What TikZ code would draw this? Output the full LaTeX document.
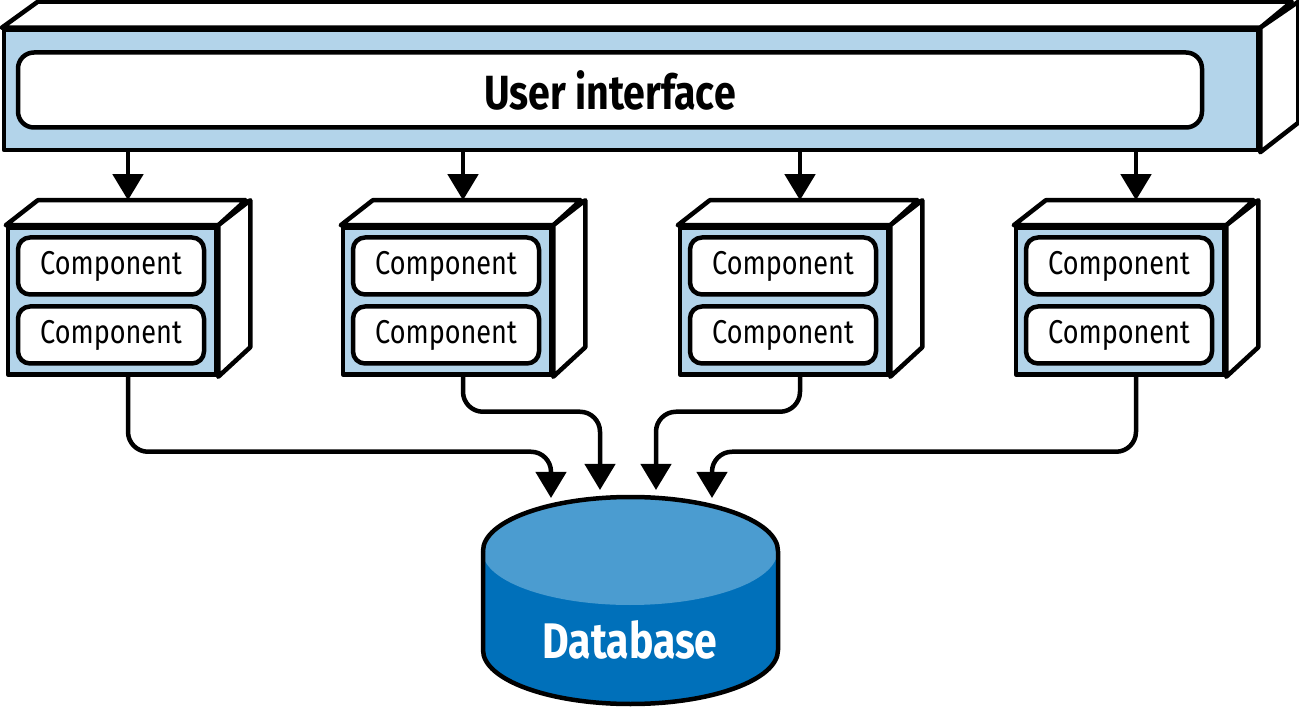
\documentclass[tikz,border=0pt]{standalone}
\usepackage{fontspec}
\setmainfont{Fira Sans}[FakeStretch=0.82]
\usetikzlibrary{positioning, arrows.meta}
\definecolor{boxblue}{HTML}{B3D4EA}
\definecolor{dblight}{HTML}{4B9CD0}
\definecolor{dbdark}{HTML}{0070BA}
\begin{document}
\begin{tikzpicture}[x=1pt, y=-1pt, line width=4.5pt, line join=round,
        front/.style = {rectangle, draw, fill=boxblue, inner sep=0pt,
                       minimum width=208pt, minimum height=147pt},
         comp/.style = {rectangle, rounded corners=12pt, draw, fill=white,
                       minimum width=186pt, minimum height=57pt, inner sep=0pt,
                       font=\fontsize{33}{35}\selectfont},
          arr/.style = {-{Triangle[width=30pt,length=26pt]}, line width=4.5pt},
         link/.style = {arr, rounded corners=20pt}
                        ]
\useasboundingbox (0,0) rectangle (1299,708);
% user interface bar
\node (uibar) [rectangle, draw, fill=boxblue, inner sep=0pt,
      minimum width=1254pt, minimum height=120pt] at (631,90) {};
\draw[fill=white] (uibar.north west) -- ++(36,-26) -- ++(1254,0)
      -- (uibar.north east) -- cycle;
\draw[fill=white] (uibar.north east) -- ++(38,-26) -- ++(0,121)
      -- (uibar.south east) -- cycle;
\node (ui) [comp, minimum width=1184pt, minimum height=75pt, rounded corners=16pt,
      font=\fontsize{48}{50}\selectfont\bfseries] at (610,90) {User interface};
% components
\foreach \i/\x in {1/112, 2/447, 3/784, 4/1120} {
  \node (box\i) [front] at (\x,301) {};
  \draw[fill=white] (box\i.north west) -- ++(32,-25) -- ++(208,0)
        -- (box\i.north east) -- cycle;
  \draw[fill=white] (box\i.north east) -- ++(32,-25) -- ++(0,147)
        -- (box\i.south east) -- cycle;
  \node (ca\i) [comp] at (\x-1,266) {Component};
  \node (cb\i) [comp] at (\x-1,335) {Component};
  \coordinate (top\i) at ([xshift=16pt]box\i.north);
  \draw[arr] (top\i |- uibar.south) -- ([yshift=25pt]top\i);
}
% database
\fill[dbdark] (483,551) -- (483,650) arc[start angle=180, end angle=0,
      x radius=147.5, y radius=54] -- (778,551) -- cycle;
\fill[dblight] (630,551) ellipse[x radius=147.5, y radius=54];
\draw (483,551) arc[start angle=180, end angle=360, x radius=147.5, y radius=54];
\draw (483,551) -- (483,650) arc[start angle=180, end angle=0,
      x radius=147.5, y radius=54] -- (778,551);
\node (db) [text=white, font=\fontsize{50}{52}\selectfont\bfseries] at (630,640) {Database};
\coordinate (in1) at (551,498);
\coordinate (in2) at (600,490);
\coordinate (in3) at (656,490);
\coordinate (in4) at (712,498);
% links to the database
\draw[link] (top1 |- box1.south) -- ++(0,75) -| (in1);
\draw[link] (top2 |- box2.south) -- ++(0,35) -| (in2);
\draw[link] (top3 |- box3.south) -- ++(0,35) -| (in3);
\draw[link] (top4 |- box4.south) -- ++(0,75) -| (in4);
\end{tikzpicture}
\end{document}
